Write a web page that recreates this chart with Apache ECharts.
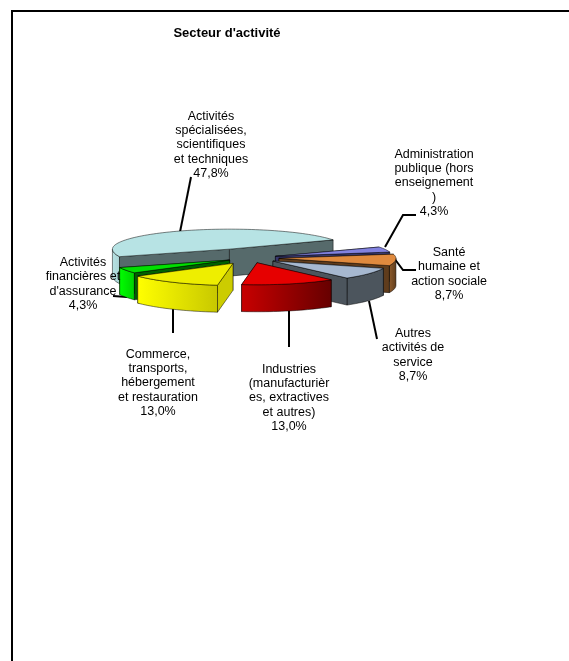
<!DOCTYPE html>
<html>
<head>
<meta charset="utf-8">
<style>
  html, body { margin: 0; padding: 0; background: #fff; }
  #charts { width: 569px; height: 661px; }
</style>
<script src="https://cdn.jsdelivr.net/npm/echarts@6/dist/echarts.min.js"></script>
</head>
<body>
<div id="charts"></div>
<script>
var categories = [
    "Activités\nspécialisées,\nscientifiques\net techniques",
    "Administration\npublique (hors\nenseignement\n)",
    "Santé\nhumaine et\naction sociale",
    "Autres\nactivités de\nservice",
    "Industries\n(manufacturièr\nes, extractives\net autres)",
    "Commerce,\ntransports,\nhébergement\net restauration",
    "Activités\nfinancières et\nd'assurance"
];
var values = [47.8, 4.3, 8.7, 8.7, 13.0, 13.0, 4.3];

// back to front
var drawOrder = [0, 1, 2, 3, 6, 5, 4];
var explode = [51, 27, 29, 28, 26, 33, 23];
var labelPos = [[211, 145], [434, 183], [449, 274], [413, 355], [289, 398], [158, 383], [83, 284]];
var leaders = [
    [[191, 177], [180, 232]],
    [[416, 215], [403, 215], [385, 247]],
    [[416, 270], [403, 270], [394, 258]],
    [[369, 301], [377, 339]],
    [[289, 310], [289, 347]],
    [[173, 308], [173, 333]],
    [[113, 296], [127, 297]]
];
var tops = ['#b7e3e4', '#8282e0', '#e08a3e', '#a6b8d0', '#e60000', '#eeee00', '#00e000'];
var cuts = ['#566a6b', '#37376b', '#5f3c1c', '#4c555d', '#800000', '#cccc00', '#006000'];
var sides = [
    ['#b7e3e4', '#a9d2d3'], ['#6a6ab8', '#37376b'], ['#8f5c2c', '#5f3c1c'], ['#4c555d', '#4c555d'],
    ['#c80000', '#660000'], ['#ffff00', '#c8c800'], ['#00ff00', '#00d000']
];

var startAngle = 160, cx = 250, cy = 258, rx = 117, ryFront = 22, ryBack = 20, depth = 27;

function yScale(a) {
    return Math.sin(a) >= 0 ? ryFront : ryBack;
}

function onRim(apex, deg, dy) {
    var a = deg * Math.PI / 180;
    return [apex[0] + rx * Math.cos(a), apex[1] + yScale(a) * Math.sin(a) + dy];
}

function arc(apex, from, to, dy) {
    var pts = [], n = Math.max(2, Math.ceil((to - from) / 2));
    for (var i = 0; i <= n; i++) {
        pts.push(onRim(apex, from + (to - from) * i / n, dy));
    }
    return pts;
}

function poly(points, fill, z2) {
    return {
        type: 'polygon',
        z2: z2,
        shape: { points: points },
        style: { fill: fill, stroke: 'rgba(0,0,0,0.65)', lineWidth: 0.75 }
    };
}

var total = values.reduce(function (s, v) { return s + v; }, 0);
var angles = [startAngle];
values.forEach(function (v, i) {
    angles.push(angles[i] + v / total * 360);
});

function renderSlice(params, api) {
    var i = api.value(0);
    var s = angles[i], e = angles[i + 1], mid = (s + e) / 2 * Math.PI / 180;
    var apex = [cx + explode[i] * Math.cos(mid), cy + explode[i] * 0.19 * Math.sin(mid)];
    var base = (drawOrder.indexOf(i) + 1) * 10;
    var children = [];

    // cut faces, hidden ones get covered by what comes after
    [s, e].forEach(function (deg, j) {
        var corner = onRim(apex, deg, 0), low = onRim(apex, deg, depth);
        children.push(poly([apex, corner, low, [apex[0], apex[1] + depth]], cuts[i], base + (Math.cos(deg * Math.PI / 180) * (j ? 1 : -1) > 0 ? 3 : 1)));
    });

    [0, 360].forEach(function (k) {
        var lo = Math.max(s, k), hi = Math.min(e, k + 180);
        if (hi > lo) {
            var pts = arc(apex, lo, hi, 0).concat(arc(apex, lo, hi, depth).reverse());
            children.push(poly(pts, new echarts.graphic.LinearGradient(0, 0, 1, 0, [
                { offset: 0, color: sides[i][0] },
                { offset: 1, color: sides[i][1] }
            ]), base + 2));
        }
    });

    children.push(poly([apex].concat(arc(apex, s, e, 0)), tops[i], base + 4));

    children.push({
        type: 'polyline',
        z2: 1,
        shape: { points: leaders[i] },
        style: { fill: null, stroke: '#000', lineWidth: 2 }
    });
    children.push({
        type: 'text',
        z2: 200,
        style: {
            text: categories[i] + '\n' + values[i].toFixed(1).replace('.', ',') + '%',
            x: labelPos[i][0],
            y: labelPos[i][1],
            align: 'center',
            verticalAlign: 'middle',
            fill: '#000',
            font: '12.5px "Liberation Sans", Arial, sans-serif',
            lineHeight: 14.3
        }
    });
    return { type: 'group', children: children };
}

var myChart = echarts.init(document.getElementById('charts'));

myChart.setOption({
    animation: false,
    backgroundColor: '#fff',
    title: {
        text: "Secteur d'activité",
        left: 222,
        top: 22,
        textAlign: 'center',
        textStyle: { fontFamily: '"Liberation Sans", Arial, sans-serif', fontSize: 13, fontWeight: 'bold', color: '#000' }
    },
    graphic: [
        { type: 'rect', z: -1, shape: { x: 11, y: 10, width: 2, height: 651 }, style: { fill: '#000' } },
        { type: 'rect', z: -1, shape: { x: 11, y: 10, width: 558, height: 2 }, style: { fill: '#000' } }
    ],
    series: [{
        type: 'custom',
        coordinateSystem: 'none',
        silent: true,
        renderItem: renderSlice,
        data: drawOrder.map(function (i) { return [i]; })
    }]
});
</script>
</body>
</html>
